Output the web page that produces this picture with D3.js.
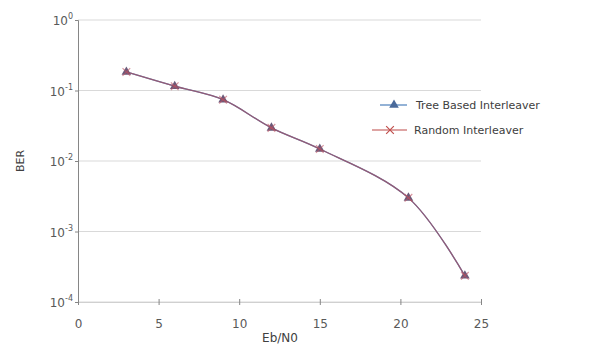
<!DOCTYPE html>
<html><head><meta charset="utf-8">
<script src="https://cdn.jsdelivr.net/npm/d3@7/dist/d3.min.js"></script>
<style>body{margin:0;background:#fff;}text{font-family:"DejaVu Sans",sans-serif;}</style>
</head><body>
<svg id="c" width="604" height="346"></svg>
<script>
const ebn0 = [3, 6, 9, 12, 15, 20.5, 24];
const treeBER = [0.183, 0.115, 0.074, 0.0295, 0.0148, 0.0030, 0.000235];
const randomBER = [0.183, 0.115, 0.074, 0.0295, 0.0148, 0.0030, 0.000235];
const xTicks = [0, 5, 10, 15, 20, 25];
const yTicks = [1, 1e-1, 1e-2, 1e-3, 1e-4];
const yExp = ["0", "-1", "-2", "-3", "-4"];
const seriesNames = ["Tree Based Interleaver", "Random Interleaver"];

const svg = d3.select("#c");
const x = d3.scaleLinear().domain([0, 25]).range([78, 481]);
const y = d3.scaleLog().domain([1e-4, 1]).range([302, 20]);

// gridlines
svg.append("g").selectAll("line").data(yTicks).join("line")
  .attr("x1", 78).attr("x2", 481)
  .attr("y1", d => y(d)).attr("y2", d => y(d))
  .attr("stroke", "#d9d9d9").attr("stroke-width", 1);

// y axis
const gy = svg.append("g").attr("transform", "translate(78,0)")
  .call(d3.axisLeft(y).tickValues(yTicks).tickSize(3).tickFormat(""));
gy.select(".domain").attr("stroke", "#868686");
gy.selectAll(".tick line").attr("stroke", "#868686");
const yl = svg.append("g").selectAll("text").data(yTicks).join("text")
  .attr("x", 73).attr("y", d => y(d) + 5).attr("text-anchor", "end")
  .attr("fill", "#595959").attr("font-size", 12);
yl.append("tspan").text("10");
yl.append("tspan").attr("dy", -6).attr("font-size", 8).text((d, i) => yExp[i]);

// x axis
const gx = svg.append("g").attr("transform", "translate(0,302)")
  .call(d3.axisBottom(x).tickValues(xTicks).tickSizeInner(3).tickSizeOuter(0).tickFormat(d3.format("d")));
gx.select(".domain").attr("stroke", "#d0d0d0");
gx.selectAll(".tick line").attr("stroke", "#868686").attr("y1", -3);
gx.selectAll(".tick text").attr("fill", "#595959").attr("font-size", 12).attr("y", 26).attr("dy", 0);

// axis titles
svg.append("text").attr("x", 280).attr("y", 342).attr("text-anchor", "middle")
  .attr("fill", "#404040").attr("font-size", 12).text("Eb/N0");
svg.append("text").attr("transform", "translate(24,161) rotate(-90)").attr("text-anchor", "middle")
  .attr("fill", "#404040").attr("font-size", 11).text("BER");

const line = d3.line().x(d => x(d[0])).y(d => y(d[1])).curve(d3.curveCatmullRom);
const treeData = ebn0.map((e, i) => [e, treeBER[i]]);
const randData = ebn0.map((e, i) => [e, randomBER[i]]);

const tri = d3.symbol().type(d3.symbolTriangle).size(40);
const star = d3.symbol().type(d3.symbolTimes).size(40);
// tree series
svg.append("path").attr("d", line(treeData)).attr("fill", "none").attr("stroke", "#4a7ebb").attr("stroke-width", 1.3);
svg.append("g").selectAll("path").data(treeData).join("path")
  .attr("transform", d => `translate(${x(d[0])},${y(d[1])})`).attr("d", tri).attr("fill", "#6a5a7a");
// random series overlay
svg.append("path").attr("d", line(randData)).attr("fill", "none").attr("stroke", "#a85060").attr("stroke-width", 1.3).attr("opacity", 0.78);
svg.append("g").selectAll("path").data(randData).join("path")
  .attr("transform", d => `translate(${x(d[0])},${y(d[1])})`).attr("d", star)
  .attr("fill", "none").attr("stroke", "#c05060").attr("stroke-width", 1.2).attr("opacity", 0.6);

// legend
const lg = svg.append("g");
lg.append("line").attr("x1", 380).attr("x2", 407).attr("y1", 105).attr("y2", 105).attr("stroke", "#4a7ebb").attr("stroke-width", 1.2);
lg.append("path").attr("transform", "translate(394,105)").attr("d", tri).attr("fill", "#4a6a9b");
lg.append("text").attr("x", 416).attr("y", 109).attr("fill", "#404040").attr("font-size", 11).text(seriesNames[0]);
lg.append("line").attr("x1", 372).attr("x2", 407).attr("y1", 130).attr("y2", 130).attr("stroke", "#be4b48").attr("stroke-width", 1.2);
lg.append("path").attr("transform", "translate(390,130)").attr("d", star).attr("fill", "none").attr("stroke", "#c0504d").attr("stroke-width", 1.2);
lg.append("text").attr("x", 414).attr("y", 134).attr("fill", "#404040").attr("font-size", 11).text(seriesNames[1]);
</script>
</body></html>
